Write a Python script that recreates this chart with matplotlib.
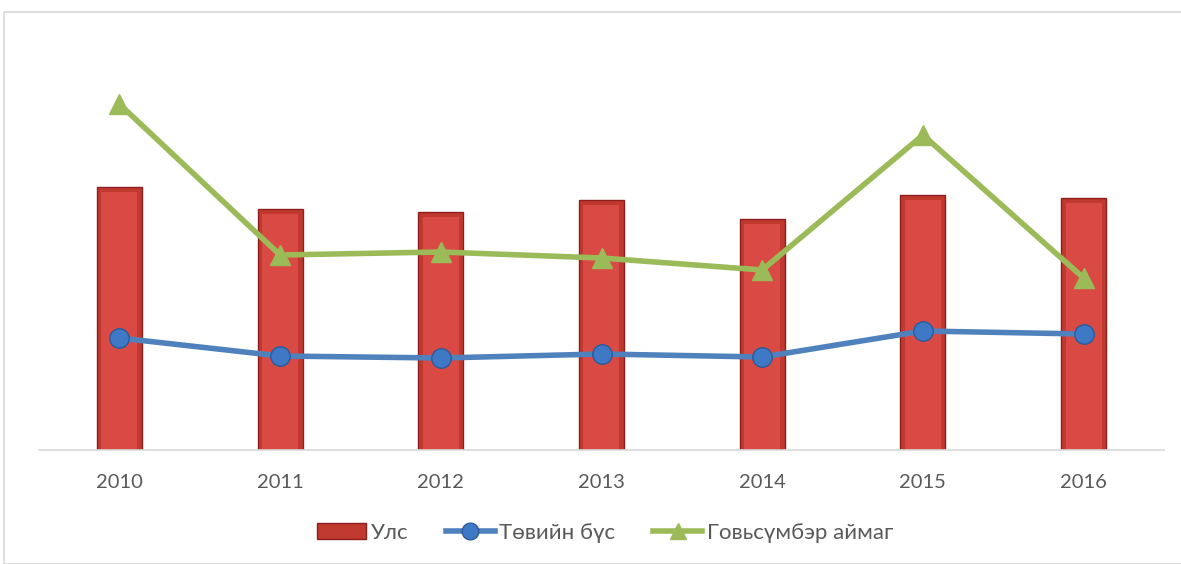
import numpy as np
import matplotlib.pyplot as plt
from matplotlib.patches import Rectangle
from matplotlib.lines import Line2D

plt.rcParams['font.family'] = ['Lato', 'DejaVu Sans']

years = ['2010', '2011', '2012', '2013', '2014', '2015', '2016']
uls = [263, 241, 238, 250, 231, 255, 252]          # Улс
tov = [112, 94, 92, 96, 93, 119, 116]              # Төвийн бүс
govi = [346, 195, 198, 192, 180, 315, 172]         # Говьсүмбэр аймаг

W, H = 1181, 564
fig = plt.figure(figsize=(W / 100, H / 100), dpi=100)
ax = fig.add_axes([39 / W, (H - 450) / H, 1125 / W, 420 / H])

# chart border
fig.patches.append(Rectangle((4 / W, 0), 1.2, (H - 12) / H, transform=fig.transFigure,
                             fill=False, edgecolor='#D9D9D9', linewidth=1.2))

x = np.arange(len(years))
bw = 0.28
ax.bar(x, uls, width=bw, color='#C0392F', edgecolor='#8E1F1C', linewidth=1.0, zorder=2)
# lighter face to fake the bevel look
ax.bar(x, np.array(uls) - 5, width=bw * 0.8, color='#DA4A45', linewidth=0, zorder=2)

ax.plot(x, tov, color='#4F81BD', linewidth=4, marker='o', markersize=14,
        markerfacecolor='#3F78C4', markeredgecolor='#2A5B9A', markeredgewidth=1, zorder=3)
ax.plot(x, govi, color='#9BBB59', linewidth=4, marker='^', markersize=15,
        markerfacecolor='#9BBB59', markeredgecolor='#9BBB59', zorder=4)

ax.set_xlim(-0.5, len(years) - 0.5)
ax.set_ylim(0, 420)
ax.set_xticks(x)
ax.set_xticklabels(years, fontsize=14.5, color='#595959')
ax.tick_params(axis='x', length=0, pad=17)
ax.set_yticks([])
for s in ['top', 'right', 'left']:
    ax.spines[s].set_visible(False)
ax.spines['bottom'].set_color('#D9D9D9')
ax.spines['bottom'].set_linewidth(1.2)

handles = [
    Rectangle((0, 0), 1, 1, facecolor='#C0392F', edgecolor='#8E1F1C'),
    Line2D([], [], color='#4F81BD', linewidth=4, marker='o', markersize=12,
           markerfacecolor='#3F78C4', markeredgecolor='#2A5B9A'),
    Line2D([], [], color='#9BBB59', linewidth=4, marker='^', markersize=12),
]
fig.legend(handles, ['Улс', 'Төвийн бүс', 'Говьсүмбэр аймаг'], loc='center',
           bbox_to_anchor=(605 / W, (H - 533) / H), ncol=3, frameon=False,
           fontsize=16, labelcolor='#595959', handlelength=2.2, handleheight=0.7,
           columnspacing=1.7, handletextpad=0.2)

fig.savefig('out.png', dpi=100)
